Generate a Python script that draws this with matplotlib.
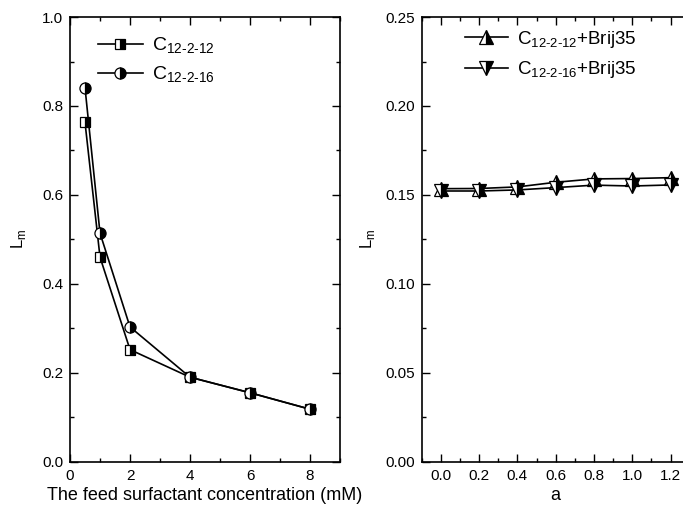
import matplotlib.pyplot as plt
from matplotlib.ticker import MultipleLocator

plt.rcParams['font.family'] = ['Liberation Sans', 'DejaVu Sans']
plt.rcParams['mathtext.fontset'] = 'custom'
plt.rcParams['mathtext.rm'] = 'Liberation Sans'

# left panel: feed concentration (mM)
conc = [0.5, 1, 2, 4, 6, 8]
lm_12 = [0.763, 0.460, 0.252, 0.190, 0.155, 0.118]
lm_16 = [0.841, 0.514, 0.303, 0.190, 0.155, 0.118]

# right panel: a
a_vals = [0.0, 0.2, 0.4, 0.6, 0.8, 1.0, 1.2]
lm_12_brij = [0.1535, 0.1536, 0.1545, 0.1571, 0.1590, 0.1592, 0.1597]
lm_16_brij = [0.1522, 0.1522, 0.1528, 0.1541, 0.1555, 0.1550, 0.1556]

fig = plt.figure(figsize=(6.83, 5.14), dpi=100)
ax1 = fig.add_axes([0.1025, 0.1018, 0.3953, 0.865])
ax2 = fig.add_axes([0.6174, 0.1018, 0.3925, 0.865])

mk = dict(color='black', lw=1.2, markerfacecolor='black',
          markerfacecoloralt='white', markeredgecolor='black',
          fillstyle='right', markeredgewidth=0.9)

sub12 = 'C$_{\\mathregular{12\\text{-}2\\text{-}12}}$'
sub16 = 'C$_{\\mathregular{12\\text{-}2\\text{-}16}}$'

ax1.plot(conc, lm_12, marker='s', ms=7, label=sub12, **mk)
ax1.plot(conc, lm_16, marker='o', ms=8, label=sub16, **mk)
ax1.set_xlim(0, 9)
ax1.set_ylim(0, 1.0)
ax1.xaxis.set_major_locator(MultipleLocator(2))
ax1.xaxis.set_minor_locator(MultipleLocator(1))
ax1.yaxis.set_major_locator(MultipleLocator(0.2))
ax1.yaxis.set_minor_locator(MultipleLocator(0.1))
ax1.set_xlabel('The feed surfactant concentration (mM)', fontsize=13, labelpad=3)
ax1.set_ylabel('L$_\\mathregular{m}$', fontsize=12, labelpad=10)

ax2.plot(a_vals, lm_12_brij, marker='^', ms=10, label=sub12 + '+Brij35', **mk)
ax2.plot(a_vals, lm_16_brij, marker='v', ms=10, label=sub16 + '+Brij35', **mk)
ax2.set_xlim(-0.1, 1.3)
ax2.set_ylim(0, 0.25)
ax2.xaxis.set_major_locator(MultipleLocator(0.2))
ax2.xaxis.set_minor_locator(MultipleLocator(0.1))
ax2.yaxis.set_major_locator(MultipleLocator(0.05))
ax2.yaxis.set_minor_locator(MultipleLocator(0.025))
ax2.set_xlabel('a', fontsize=13, labelpad=3)
ax2.set_ylabel('L$_\\mathregular{m}$', fontsize=12, labelpad=6)

for ax in (ax1, ax2):
    ax.tick_params(which='both', direction='in', top=True, right=True, labelsize=11)
    ax.tick_params(which='major', length=6, width=1, pad=5)
    ax.tick_params(which='minor', length=3, width=1)
    for s in ax.spines.values():
        s.set_linewidth(1.2)
ax2.tick_params(which='both', right=False)

ax1.legend(loc='upper left', bbox_to_anchor=(0.075, 0.975), borderaxespad=0,
           frameon=False, fontsize=14, handlelength=2.3, handletextpad=0.5,
           labelspacing=0.45)
ax2.legend(loc='upper left', bbox_to_anchor=(0.133, 0.99), borderaxespad=0,
           frameon=False, fontsize=13.5, handlelength=2.3, handletextpad=0.5,
           labelspacing=0.5)

fig.savefig('out.png', dpi=100)
